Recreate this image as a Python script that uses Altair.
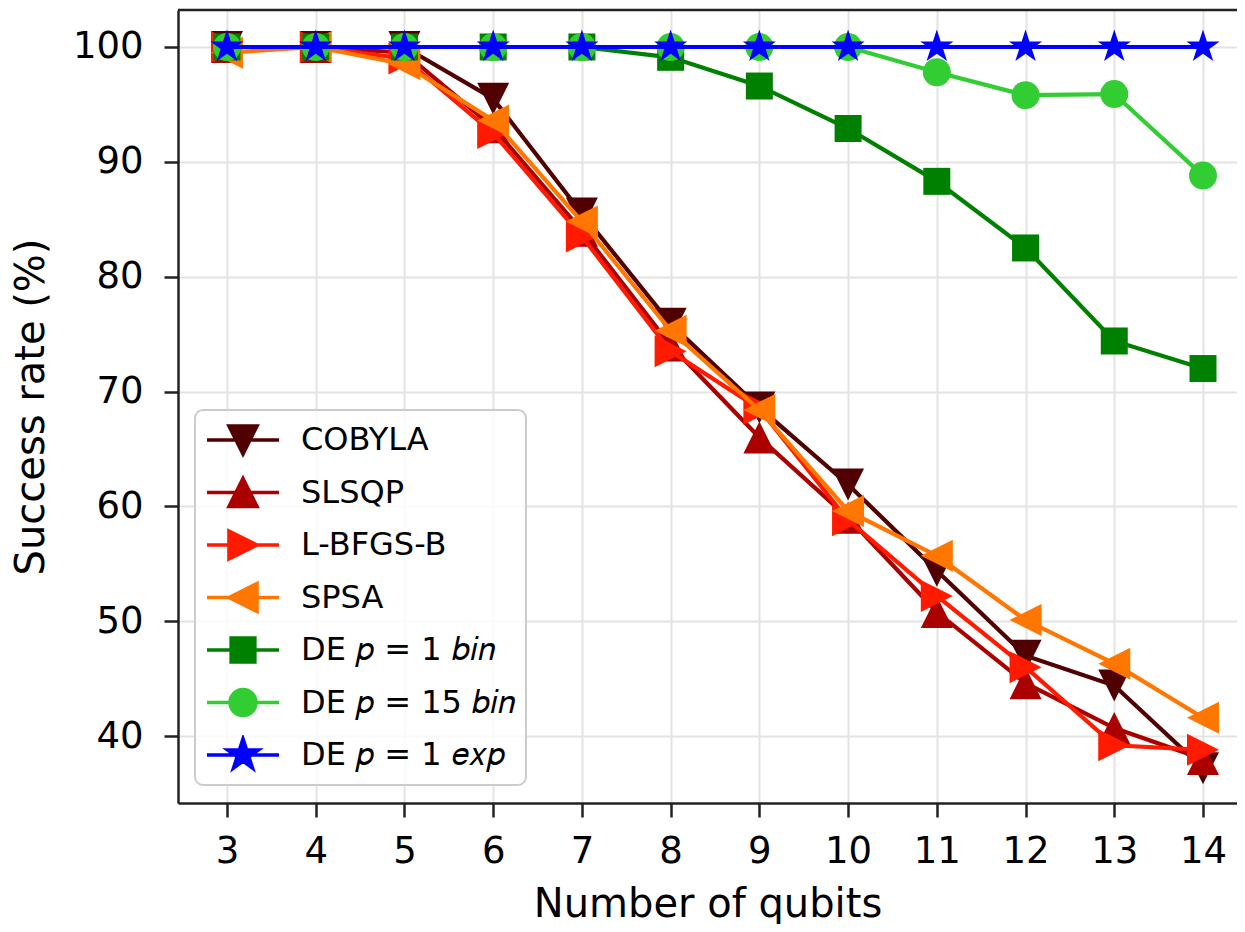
import json
import math
import altair as alt
import pandas as pd

# ---------------- data ----------------
qubits = [3, 4, 5, 6, 7, 8, 9, 10, 11, 12, 13, 14]
cobyla = [100, 100, 100, 95.5, 85.5, 75.9, 68.6, 61.9, 54.4, 47.0, 44.4, 37.2]
slsqp = [100, 100, 99.5, 93.0, 84.0, 74.0, 66.0, 59.0, 50.8, 44.6, 40.7, 38.0]
lbfgsb = [100, 100, 99.0, 92.5, 83.5, 73.5, 68.5, 58.8, 52.2, 46.0, 39.2, 38.8]
spsa = [99.5, 100, 98.5, 93.6, 84.8, 75.3, 68.4, 59.6, 55.7, 50.1, 46.3, 41.6]
de_p1_bin = [100, 100, 100, 100, 100, 99.1, 96.6, 92.9, 88.3, 82.5, 74.4, 72.0]
de_p15_bin = [100, 100, 100, 100, 100, 100, 100, 100, 97.8, 95.8, 95.9, 88.8]
de_p1_exp = [100, 100, 100, 100, 100, 100, 100, 100, 100, 100, 100, 100]

names = ["COBYLA", "SLSQP", "L-BFGS-B", "SPSA",
         "DE 𝑝 = 1 𝑏𝑖𝑛", "DE 𝑝 = 15 𝑏𝑖𝑛", "DE 𝑝 = 1 𝑒𝑥𝑝"]
series = [cobyla, slsqp, lbfgsb, spsa, de_p1_bin, de_p15_bin, de_p1_exp]
colors = ["#500000", "#aa0000", "#ff1a00", "#ff7700", "#008000", "#32cd32", "#0000ff"]
y_ticks = [40, 50, 60, 70, 80, 90, 100]
x_range = [2.4478, 14.3832]
y_range = [34.17, 103.22]

rows = []
for name, vals in zip(names, series):
    for q, v in zip(qubits, vals):
        rows.append({"series": name, "qubits": q, "rate": v})
df = pd.DataFrame(rows)

# ---------------- marker shapes ----------------
def poly(pts, k=1.0):
    return "M" + "L".join(f"{x * k:.3f},{y * k:.3f}" for x, y in pts) + "Z"

tri_down = [(-1, -1), (1, -1), (0, 1)]
tri_up = [(0, -1), (1, 1), (-1, 1)]
tri_right = [(1, 0), (-1, -1), (-1, 1)]
tri_left = [(-1, 0), (1, -1), (1, 1)]
square = [(-1, -1), (1, -1), (1, 1), (-1, 1)]
star = []
for i in range(10):
    ang = math.radians(-90 + 36 * i)
    r = 1.0 if i % 2 == 0 else 0.382
    star.append((r * math.cos(ang), r * math.sin(ang)))

def circle_path(r):
    return f"M{r:.3f},0A{r:.3f},{r:.3f} 0 1,1 {-r:.3f},0A{r:.3f},{r:.3f} 0 1,1 {r:.3f},0Z"

plot_shapes = [poly(tri_down), poly(tri_up), poly(tri_right), poly(tri_left),
               poly(square), "circle", poly(star)]
plot_sizes = [1024, 1024, 1024, 1024, 729, 784, 1211]

line_seg = "M-1,0L1,0"
legend_shapes = [line_seg + poly(tri_down, 0.39), line_seg + poly(tri_up, 0.39),
                 line_seg + poly(tri_right, 0.39), line_seg + poly(tri_left, 0.39),
                 line_seg + poly(square, 0.33), line_seg + circle_path(0.36),
                 line_seg + poly(star, 0.45)]

# ---------------- encodings ----------------
x_scale = alt.Scale(domain=x_range, nice=False, zero=False)
y_scale = alt.Scale(domain=y_range, nice=False, zero=False)
x_enc = alt.X("qubits:Q", scale=x_scale,
              axis=alt.Axis(values=qubits, format="d", title="Number of qubits"))
y_enc = alt.Y("rate:Q", scale=y_scale,
              axis=alt.Axis(values=y_ticks, format="d", title="Success rate (%)"))

layers = []
for name, col, shp, sz in zip(names, colors, plot_shapes, plot_sizes):
    base = alt.Chart(df).transform_filter(alt.datum.series == name)
    layers.append(base.mark_line(color=col, strokeWidth=4.2).encode(x=x_enc, y=y_enc))
    layers.append(base.mark_point(filled=True, shape=shp, size=sz, color=col,
                                  opacity=1, strokeWidth=0).encode(x=x_enc, y=y_enc))

color_expr = f"{json.dumps(colors)}[indexof({json.dumps(names, ensure_ascii=False)}, datum.value)]"

legend_layer = alt.Chart(df).mark_point(filled=True, opacity=0).encode(
    x=x_enc,
    y=y_enc,
    shape=alt.Shape("series:N", scale=alt.Scale(domain=names, range=legend_shapes),
                    legend=alt.Legend(title=None, orient="none", legendX=17, legendY=400,
                                      direction="vertical", symbolSize=5184,
                                      symbolStrokeWidth=3.5,
                                      symbolFillColor={"expr": color_expr},
                                      symbolStrokeColor={"expr": color_expr},
                                      symbolOpacity=1, labelFont="DejaVu Sans",
                                      labelFontSize=32, labelColor="#000000",
                                      labelOffset=20, labelLimit=500, clipHeight=40,
                                      rowPadding=12.5)),
    fill=alt.Fill("series:N", scale=alt.Scale(domain=names, range=colors), legend=None),
    stroke=alt.Stroke("series:N", scale=alt.Scale(domain=names, range=colors), legend=None),
)
layers.append(legend_layer)

# top frame line drawn at the upper end of the y scale
top_frame = alt.Chart(pd.DataFrame({"rate": [y_range[1]]})).mark_rule(
    color="#222222", strokeWidth=2.5).encode(y=y_enc)
layers.append(top_frame)

chart = alt.layer(*layers).properties(
    width=1059, height=793,
    padding={"left": 170, "top": 2, "right": 0, "bottom": 121},
    autosize=alt.AutoSizeParams(type="none"),
).configure_view(stroke=None).configure_axis(
    labelFont="DejaVu Sans", labelFontSize=37, labelColor="#000000",
    titleFont="DejaVu Sans", titleFontSize=40, titleFontWeight="normal", titleColor="#000000",
    domainColor="#222222", domainWidth=2.5, tickColor="#222222", tickWidth=2.5, tickSize=14,
    gridColor="#e3e3e3", gridWidth=2, labelPadding=16,
).configure_axisX(titlePadding=15, titleFontSize=40).configure_axisY(
    titlePadding=21, labelPadding=21).configure_legend(
    fillColor="rgba(255,255,255,0.8)", strokeColor="#cccccc", strokeWidth=2,
    cornerRadius=8, padding=10,
)

chart.save("out.html", embed_options={"renderer": "svg", "actions": False})
